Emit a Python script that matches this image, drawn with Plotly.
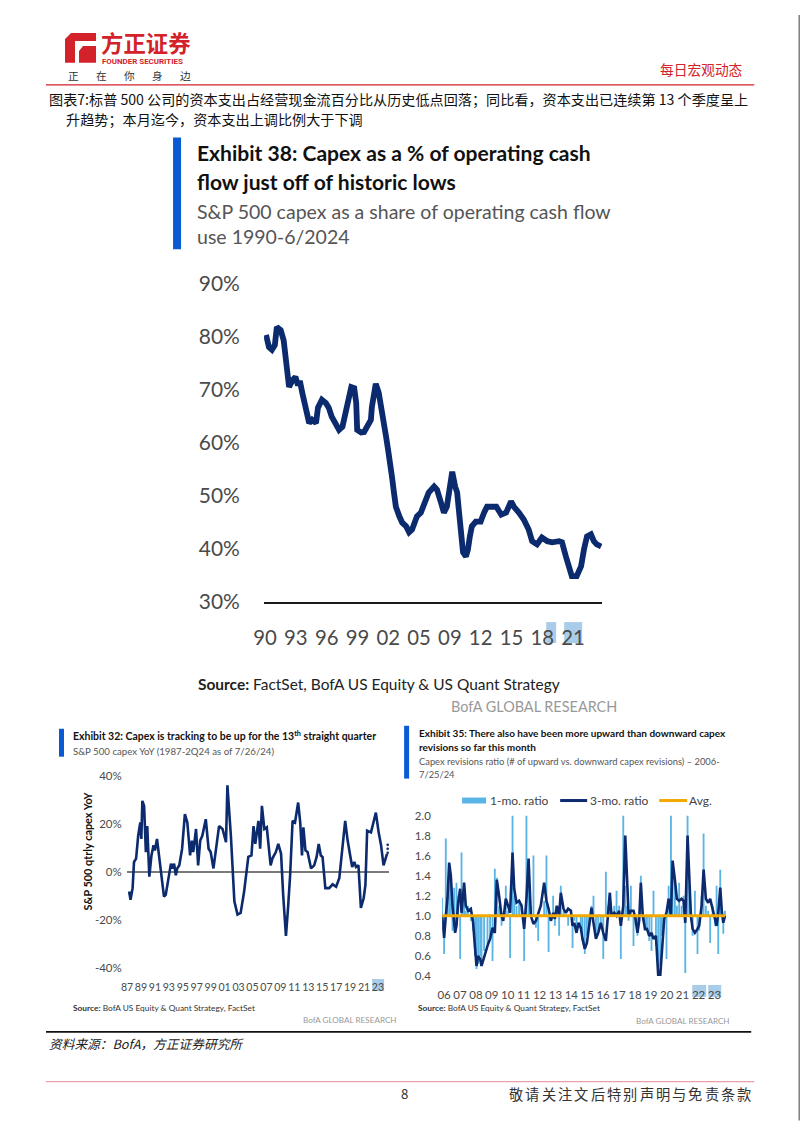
import plotly.graph_objects as go

# ---------------- DATA ----------------
MAIN_YEARS = [1990.2, 1990.5, 1990.8, 1991.1, 1991.3, 1991.7, 1992.0, 1992.2, 1992.4, 1992.55,
              1992.9, 1993.2, 1993.4, 1993.7, 1993.9, 1994.2, 1994.4, 1994.6, 1994.9, 1995.3,
              1995.5, 1995.9, 1996.3, 1996.6, 1996.9, 1997.3, 1997.65, 1998.0, 1998.2, 1998.5,
              1998.7, 1998.9, 1999.2, 1999.4, 1999.5, 1999.9, 2000.2, 2000.5, 2000.9, 2001.0,
              2001.3, 2001.4, 2001.7, 2001.9, 2002.2, 2002.45, 2002.65, 2002.95, 2003.05, 2003.25,
              2003.45, 2003.8, 2004.1, 2004.5, 2004.8, 2005.1, 2005.3, 2005.6, 2006.0, 2006.3,
              2006.5, 2006.8, 2007.35, 2007.65, 2008.05, 2008.35, 2008.65, 2009.0, 2009.2, 2009.5,
              2009.7, 2009.9, 2010.1, 2010.3, 2010.6, 2010.8, 2011.0, 2011.2, 2011.6, 2012.1,
              2012.45, 2012.75, 2013.25, 2013.7, 2014.2, 2014.7, 2015.2, 2015.5, 2016.0, 2016.5,
              2017.0, 2017.35, 2017.85, 2018.35, 2018.9, 2019.4, 2020.1, 2020.4, 2020.8, 2021.1,
              2021.4, 2021.9, 2022.35, 2022.65, 2022.95, 2023.35, 2023.65, 2023.95, 2024.4]
MAIN_VALUES = [80.4, 78.1, 77.6, 78.5, 81.9, 81.3, 79.4, 76.0, 73.2, 70.6,
               71.9, 72.5, 71.3, 71.3, 69.5, 66.8, 65.7, 63.8, 64.4, 63.8,
               66.7, 68.2, 67.6, 66.7, 65.0, 63.8, 62.5, 63.1, 65.0, 66.8,
               69.5, 70.6, 70.4, 67.6, 62.5, 62.0, 62.1, 63.1, 64.4, 66.8,
               70.4, 71.2, 69.5, 66.8, 64.4, 61.2, 58.8, 55.6, 53.7, 50.7,
               48.0, 46.2, 45.0, 44.3, 43.2, 43.7, 45.0, 46.2, 46.9, 48.4,
               49.9, 50.7, 51.8, 51.2, 48.8, 46.9, 48.0, 52.6, 54.6, 51.8,
               50.7, 46.9, 42.4, 39.4, 38.6, 39.9, 42.4, 44.3, 45.2, 45.2,
               46.9, 48.0, 48.0, 48.0, 46.5, 46.9, 49.0, 48.0, 46.9, 45.6,
               43.7, 41.5, 40.9, 42.2, 41.5, 41.3, 41.5, 41.3, 38.6, 36.8,
               34.9, 34.9, 36.8, 40.0, 42.4, 42.8, 41.5, 40.9, 40.5]
MAIN_TICK_POS = [1990.1, 1993.24, 1996.39, 1999.53, 2002.67, 2005.81, 2008.96, 2012.1, 2015.24, 2018.39, 2021.53]
MAIN_TICK_TEXT = ["90", "93", "96", "99", "02", "05", "09", "12", "15", "18", "21"]
MAIN_Y_TICKS = [30, 40, 50, 60, 70, 80, 90]
MAIN_Y_TEXT = ["30%", "40%", "50%", "60%", "70%", "80%", "90%"]

YOY_YEARS = [1987.3, 1987.5, 1987.8, 1988.0, 1988.3, 1988.6, 1988.9, 1989.05, 1989.2, 1989.45,
             1989.7, 1989.9, 1990.2, 1990.5, 1990.8, 1991.0, 1991.3, 1991.6, 1991.9, 1992.3,
             1992.55, 1993.0, 1993.3, 1993.5, 1993.75, 1994.0, 1994.2, 1994.5, 1994.9, 1995.3,
             1995.65, 1996.05, 1996.3, 1996.5, 1996.9, 1997.2, 1997.5, 1997.8, 1998.3, 1998.7,
             1999.0, 1999.4, 1999.75, 2000.2, 2000.7, 2001.2, 2001.4, 2001.9, 2002.4, 2002.85,
             2003.3, 2003.8, 2004.4, 2004.85, 2005.15, 2005.4, 2005.85, 2006.1, 2006.35, 2006.7,
             2007.05, 2007.6, 2007.85, 2008.35, 2008.7, 2009.1, 2009.4, 2009.8, 2010.1, 2010.4,
             2010.75, 2011.1, 2011.55, 2011.85, 2012.1, 2012.3, 2012.6, 2012.9, 2013.4, 2013.85,
             2014.2, 2014.5, 2014.8, 2015.05, 2015.45, 2016.0, 2016.5, 2017.0, 2017.45, 2017.85,
             2018.3, 2018.65, 2019.3, 2019.6, 2019.85, 2020.2, 2020.55, 2020.95, 2021.2, 2021.45,
             2022.0, 2022.35, 2022.7, 2023.1, 2023.45, 2023.8, 2024.2, 2024.3]
YOY_VALUES = [-8.2, -11.6, -6.8, 4.1, 5.5, 15.0, 20.5, 13.7, 29.5, 27.4,
              8.2, 19.0, -2.0, 6.8, 11.0, 8.9, 13.7, 6.8, 1.4, -10.3,
              -9.6, -1.4, 3.4, 1.4, 3.4, -1.4, 1.4, 2.7, 9.6, 24.0,
              20.5, 6.8, 13.0, 8.2, 17.8, 2.7, 13.0, 15.0, 21.9, 9.6,
              8.2, 1.4, 9.6, 19.0, 17.8, 12.3, 36.0, 15.0, -12.3, -17.8,
              -17.1, -8.2, 6.2, 6.8, 19.0, 11.6, 21.2, 9.6, 27.4, 17.8,
              18.5, 2.7, 5.5, 8.2, 11.6, 7.5, -9.6, -26.7, -15.0, -1.4,
              21.2, 20.5, 28.8, 20.5, 6.8, 18.5, 8.9, 8.2, 1.4, 2.7,
              6.2, 11.6, 6.8, 6.2, -6.8, -6.8, -5.2, -6.2, -2.7, 7.5,
              21.2, 13.0, 2.0, 4.1, 2.0, 2.7, -15.0, -11.0, -5.5, 17.1,
              16.4, 20.5, 24.6, 16.4, 11.0, 2.7, 6.2, 7.5]
YOY_PROJ_YEARS = [2024.4, 2024.4, 2024.4]
YOY_PROJ_VALUES = [11.2, 9.6, 7.9]
YOY_TICK_POS = [1987, 1989, 1991, 1993, 1995, 1997, 1999, 2001, 2003, 2005,
                2007, 2009, 2011, 2013, 2015, 2017, 2019, 2021, 2023]
YOY_TICK_TEXT = ["87", "89", "91", "93", "95", "97", "99", "01", "03", "05",
                 "07", "09", "11", "13", "15", "17", "19", "21", "23"]
YOY_Y_TICKS = [-40, -20, 0, 20, 40]
YOY_Y_TEXT = ["-40%", "-20%", "0%", "20%", "40%"]

REV_YEARS = [2006.0, 2006.13, 2006.24, 2006.35, 2006.46, 2006.57, 2006.68, 2006.79, 2006.85, 2006.94,
             2007.05, 2007.18, 2007.27, 2007.35, 2007.44, 2007.55, 2007.70, 2007.88, 2008.03, 2008.16,
             2008.25, 2008.36, 2008.49, 2008.58, 2008.75, 2008.97, 2009.14, 2009.30, 2009.45, 2009.58,
             2009.73, 2009.89, 2010.00, 2010.17, 2010.32, 2010.45, 2010.61, 2010.72, 2010.87, 2011.04,
             2011.20, 2011.37, 2011.52, 2011.66, 2011.81, 2011.98, 2012.14, 2012.29, 2012.46, 2012.68,
             2012.83, 2012.97, 2013.12, 2013.27, 2013.38, 2013.51, 2013.66, 2013.77, 2013.95, 2014.10,
             2014.25, 2014.43, 2014.54, 2014.65, 2014.80, 2014.93, 2015.08, 2015.19, 2015.34, 2015.48,
             2015.63, 2015.78, 2015.91, 2016.07, 2016.22, 2016.39, 2016.55, 2016.72, 2016.87, 2016.98,
             2017.09, 2017.27, 2017.42, 2017.59, 2017.70, 2017.86, 2017.99, 2018.10, 2018.21, 2018.36,
             2018.53, 2018.66, 2018.79, 2018.90, 2019.01, 2019.14, 2019.28, 2019.41, 2019.56, 2019.71,
             2019.84, 2020.00, 2020.15, 2020.28, 2020.39, 2020.54, 2020.69, 2020.83, 2020.98, 2021.09,
             2021.24, 2021.37, 2021.52, 2021.68, 2021.81, 2021.92, 2022.07, 2022.18, 2022.29, 2022.40,
             2022.55, 2022.72, 2022.83, 2022.99, 2023.12, 2023.27, 2023.42, 2023.55, 2023.71, 2023.86,
             2023.97, 2024.08, 2024.21, 2024.32, 2024.41, 2024.52]
REV_3MO = [1.0, 0.78, 1.0, 1.17, 1.53, 1.4, 1.1, 0.93, 0.83, 0.9,
           1.13, 1.27, 1.03, 1.17, 1.33, 1.1, 1.05, 1.07, 0.93, 0.67,
           0.5, 0.6, 0.57, 0.5, 0.6, 0.7, 0.77, 0.88, 0.83, 1.36,
           1.2, 1.0, 0.95, 1.17, 1.1, 1.03, 1.63, 1.27, 1.13, 1.15,
           1.1, 0.87, 1.17, 1.57, 1.0, 0.92, 0.95, 1.03, 1.1, 1.33,
           1.15, 1.07, 0.95, 1.03, 0.97, 1.1, 1.0, 1.23, 1.07, 1.03,
           1.07, 1.05, 0.9, 0.93, 0.83, 0.93, 0.88, 0.77, 0.67, 0.73,
           0.93, 1.08, 0.93, 0.77, 0.83, 0.93, 0.83, 0.75, 1.03, 1.23,
           1.0, 1.03, 1.0, 1.05, 0.9, 1.1, 1.8, 1.36, 1.0, 1.05,
           1.05, 0.97, 0.83, 0.95, 1.33, 1.0, 0.87, 0.87, 0.8, 0.83,
           0.77, 0.8, 0.4, 0.4, 0.67, 0.97, 1.03, 1.17, 1.0, 1.55,
           1.36, 1.17, 1.15, 1.17, 1.15, 0.93, 1.8, 1.36, 1.0, 0.87,
           0.83, 0.87, 0.9, 1.1, 1.46, 1.17, 1.13, 1.17, 1.07, 0.97,
           0.9, 1.03, 1.28, 1.03, 0.93, 1.0]
REV_1MO = [1.18, 0.62, 1.77, 1.2, 1.5, 1.3, 0.85, 1.28, 0.85, 1.33,
           1.2, 0.57, 1.63, 1.1, 1.3, 1.05, 1.1, 0.95, 0.85, 0.6,
           0.47, 0.52, 0.6, 0.55, 0.65, 0.72, 0.8, 0.55, 1.47, 1.38,
           1.1, 0.9, 1.0, 1.3, 1.05, 0.58, 2.0, 1.2, 1.1, 1.15,
           1.12, 0.55, 2.0, 1.3, 1.1, 1.6, 0.88, 0.75, 1.0, 1.15,
           1.6, 0.64, 0.95, 1.2, 0.9, 1.05, 0.8, 1.3, 1.05, 1.0,
           0.9, 1.02, 0.68, 0.95, 0.85, 1.0, 0.85, 0.75, 0.62, 0.8,
           0.9, 1.1, 1.2, 0.8, 0.85, 0.9, 0.57, 1.44, 1.1, 1.2,
           1.05, 1.1, 1.25, 1.1, 0.57, 2.0, 1.3, 1.1, 0.95, 1.3,
           0.7, 0.9, 0.8, 1.0, 1.4, 0.95, 0.85, 0.88, 0.75, 0.65,
           1.25, 0.7, 0.4, 0.5, 0.8, 1.0, 0.57, 1.3, 2.0, 1.5,
           1.33, 1.1, 1.33, 1.1, 1.2, 0.43, 2.0, 1.3, 0.95, 0.8,
           1.25, 0.62, 0.85, 1.2, 1.82, 1.1, 1.05, 0.73, 1.1, 0.9,
           1.3, 0.62, 1.46, 1.0, 0.82, 1.05]
REV_AVG = 1.0
REV_TICK_POS = [2006.13, 2007.17, 2008.21, 2009.25, 2010.29, 2011.34, 2012.38, 2013.42, 2014.46,
                2015.50, 2016.54, 2017.58, 2018.62, 2019.66, 2020.70, 2021.74, 2022.79, 2023.83]
REV_TICK_TEXT = ["06", "07", "08", "09", "10", "11", "12", "13", "14",
                 "15", "16", "17", "18", "19", "20", "21", "22", "23"]
REV_Y_TICKS = [0.4, 0.6, 0.8, 1.0, 1.2, 1.4, 1.6, 1.8, 2.0]

# ---------------- STYLE ----------------
W, H = 802, 1133
# the photographed page shows the figure slightly shrunk and offset; positions below are
# given in the reference picture's pixels and mapped back into figure space
OX, OY, SX, SY = 12.0, 13.0, 0.986, 0.981
F = 1 / 0.983
FONT = "Lato"
CJK = "Noto Sans CJK SC"
NAVY = "#0c2a6e"
LIGHT = "#5ab4e5"
ORANGE = "#f2a900"
BOFA_BLUE = "#0a5ad4"
RED = "#d3222a"
HILITE = "#a9cce9"


def px(x):
    return (x - OX) / SX / W


def py(y):
    return 1 - (y - OY) / SY / H


def fs(s):
    return s * F


fig = go.Figure()

fig.add_trace(go.Scatter(x=MAIN_YEARS, y=MAIN_VALUES, mode="lines",
                         line=dict(color=NAVY, width=5.8), xaxis="x", yaxis="y", hoverinfo="skip"))
fig.add_trace(go.Scatter(x=YOY_YEARS, y=YOY_VALUES, mode="lines",
                         line=dict(color=NAVY, width=2.6), xaxis="x2", yaxis="y2", hoverinfo="skip"))
fig.add_trace(go.Scatter(x=YOY_PROJ_YEARS, y=YOY_PROJ_VALUES, mode="markers",
                         marker=dict(color=NAVY, size=2.6), xaxis="x2", yaxis="y2", hoverinfo="skip"))
fig.add_trace(go.Bar(x=REV_YEARS, y=[v - REV_AVG for v in REV_1MO], base=REV_AVG, width=0.12,
                     marker=dict(color=LIGHT, line=dict(width=0)), xaxis="x3", yaxis="y3", hoverinfo="skip"))
fig.add_trace(go.Scatter(x=REV_YEARS, y=REV_3MO, mode="lines",
                         line=dict(color=NAVY, width=2.6), xaxis="x3", yaxis="y3", hoverinfo="skip"))
fig.add_trace(go.Scatter(x=[REV_YEARS[0], REV_YEARS[-1]], y=[REV_AVG, REV_AVG], mode="lines",
                         line=dict(color=ORANGE, width=3), xaxis="x3", yaxis="y3", hoverinfo="skip"))

hidden_tick = dict(ticks="outside", tickcolor="rgba(0,0,0,0)", tickangle=0)

fig.update_layout(
    width=W, height=H, margin=dict(l=0, r=0, t=0, b=0), autosize=False,
    paper_bgcolor="white", plot_bgcolor="white", showlegend=False,
    xaxis=dict(domain=[px(265), px(603)], range=[1990, 2024.5], anchor="y",
               tickmode="array", tickvals=MAIN_TICK_POS, ticktext=MAIN_TICK_TEXT,
               showgrid=False, zeroline=False, showline=True, linecolor="#1a1a1a", linewidth=2,
               ticklen=16, tickfont=dict(family=FONT, size=fs(20), color="#4a4a4a"), **hidden_tick),
    yaxis=dict(domain=[py(603), py(284)], range=[30, 90], anchor="x",
               tickmode="array", tickvals=MAIN_Y_TICKS, ticktext=MAIN_Y_TEXT,
               showgrid=False, zeroline=False, showline=False,
               ticklen=19, tickfont=dict(family=FONT, size=fs(20.6), color="#4a4a4a"), **hidden_tick),
    xaxis2=dict(domain=[px(128), px(390)], range=[1987, 2024.6], anchor="y2",
                tickmode="array", tickvals=YOY_TICK_POS, ticktext=YOY_TICK_TEXT,
                showgrid=False, zeroline=False, showline=False,
                ticklen=9, tickfont=dict(family=FONT, size=fs(10.4), color="#4a4a4a"), **hidden_tick),
    yaxis2=dict(domain=[py(970), py(777)], range=[-40, 40], anchor="x2",
                tickmode="array", tickvals=YOY_Y_TICKS, ticktext=YOY_Y_TEXT,
                showgrid=False, zeroline=True, zerolinecolor="#7a7a7a", zerolinewidth=1.5, showline=False,
                ticklen=2, tickfont=dict(family=FONT, size=fs(11.3), color="#4a4a4a"), **hidden_tick),
    xaxis3=dict(domain=[px(443), px(727)], range=[2006, 2024.6], anchor="y3",
                tickmode="array", tickvals=REV_TICK_POS, ticktext=REV_TICK_TEXT,
                showgrid=False, zeroline=False, showline=False,
                ticklen=8, tickfont=dict(family=FONT, size=fs(11.3), color="#4a4a4a"), **hidden_tick),
    yaxis3=dict(domain=[py(978), py(817)], range=[0.4, 2.0], anchor="x3",
                tickmode="array", tickvals=REV_Y_TICKS, tickformat=".1f",
                showgrid=False, zeroline=False, showline=False,
                ticklen=8, tickfont=dict(family=FONT, size=fs(11.3), color="#4a4a4a"), **hidden_tick),
)

shapes = []
annotations = []


def rect(x0, y0, x1, y1, fill, layer="above"):
    shapes.append(dict(type="rect", xref="paper", yref="paper", x0=px(x0), x1=px(x1), y0=py(y1), y1=py(y0),
                       fillcolor=fill, line=dict(width=0), layer=layer))


def seg(x0, y0, x1, y1, color, width):
    shapes.append(dict(type="line", xref="paper", yref="paper", x0=px(x0), x1=px(x1), y0=py(y0), y1=py(y1),
                       line=dict(color=color, width=width)))


def hline(x0, x1, y, color, width):
    seg(x0, y, x1, y, color, width)


def poly(points, fill):
    d = "M " + " L ".join(f"{px(a):.5f},{py(b):.5f}" for a, b in points) + " Z"
    shapes.append(dict(type="path", xref="paper", yref="paper", path=d, fillcolor=fill, line=dict(width=0)))


def text(x, y, s, size, color="#111", family=FONT, anchor="left", angle=0):
    annotations.append(dict(x=px(x), y=py(y), xref="paper", yref="paper", text=s, showarrow=False,
                            xanchor=anchor, yanchor="middle", textangle=angle,
                            font=dict(family=family, size=fs(size), color=color)))


# page frame (right edge is the part that falls inside the figure)
seg(800, 14, 800, 1123, "#808080", 1.5)

# header logo
poly([(66, 38), (72, 32), (97, 32), (97, 40), (76, 40), (76, 62), (66, 62)], RED)
poly([(84, 45), (97, 45), (97, 62), (80, 62), (80, 50)], RED)
text(100, 41, "<b>方正证券</b>", 22, RED, CJK)
text(101, 61, "<b>FOUNDER SECURITIES</b>", 7.8, RED, "Roboto")
for i, ch in enumerate("正在你身边"):
    text(67 + 28 * i, 75, ch, 10.5, "#333", CJK)
text(746, 68, "每日宏观动态", 13.5, RED, CJK, anchor="right")
hline(47, 755, 84, RED, 1.3)

# caption
text(48, 98, "图表7:标普 500 公司的资本支出占经营现金流百分比从历史低点回落；同比看，资本支出已连续第 13 个季度呈上",
     13.9, "#111", CJK)
text(65, 118, "升趋势；本月迄今，资本支出上调比例大于下调", 13.9, "#111", CJK)

# main exhibit title
rect(174, 137, 182, 249, BOFA_BLUE)
text(196, 152, "<b>Exhibit 38: Capex as a % of operating cash</b>", 20.7, "#111")
text(196, 181, "<b>flow just off of historic lows</b>", 20.7, "#111")
text(196, 211, "S&amp;P 500 capex as a share of operating cash flow", 19.2, "#555")
text(196, 236, "use 1990-6/2024", 19.2, "#555")
rect(547, 623, 557, 644, HILITE, layer="below")
rect(565, 623, 583, 644, HILITE, layer="below")
text(197, 685, "<b>Source:</b> FactSet, BofA US Equity &amp; US Quant Strategy", 15.2, "#222")
text(620, 708, "BofA GLOBAL RESEARCH", 14.2, "#999", anchor="right")

# left exhibit
rect(60, 730, 65, 758, BOFA_BLUE)
text(72, 737, "<b>Exhibit 32: Capex is tracking to be up for the 13<sup>th</sup> straight quarter</b>", 10.3, "#111")
text(72, 752, "S&amp;P 500 capex YoY (1987-2Q24 as of 7/26/24)", 9.5, "#555")
text(88, 853, "<b>S&amp;P 500 qtrly capex YoY</b>", 10.7, "#111", anchor="center", angle=-90)
rect(373, 981, 385, 993, HILITE, layer="below")
text(72, 1010, "<b>Source:</b> BofA US Equity &amp; Quant Strategy, FactSet", 8.2, "#333")
text(400, 1022, "BofA GLOBAL RESEARCH", 8, "#999", anchor="right")

# right exhibit
rect(405, 727, 410, 780, BOFA_BLUE)
text(418, 734, "<b>Exhibit 35: There also have been more upward than downward capex</b>", 9.85, "#111")
text(418, 748, "<b>revisions so far this month</b>", 9.85, "#111")
text(418, 763, "Capex revisions ratio (# of upward vs. downward capex revisions) – 2006-", 9.2, "#555")
text(418, 776, "7/25/24", 9.2, "#555")
rect(463, 799, 487, 805, LIGHT)
text(489, 802, "1-mo. ratio", 11.8, "#444")
hline(561, 588, 802, NAVY, 3)
text(589, 802, "3-mo. ratio", 11.8, "#444")
hline(660, 688, 802, ORANGE, 3)
text(688, 802, "Avg.", 11.8, "#444")
rect(693, 987, 707, 999, HILITE, layer="below")
rect(709, 987, 722, 999, HILITE, layer="below")
text(417, 1010, "<b>Source:</b> BofA US Equity &amp; Quant Strategy, FactSet", 8.2, "#333")
text(733, 1023, "BofA GLOBAL RESEARCH", 8, "#999", anchor="right")

# footer
hline(47, 752, 1034, "#111", 1.8)
text(48, 1046, "<i>资料来源：BofA，方正证券研究所</i>", 12.5, "#222", CJK)
hline(47, 755, 1084, "#e8a0aa", 1.2)
text(405, 1096, "8", 13, "#333", CJK, anchor="center")
for i, ch in enumerate("敬请关注文后特别声明与免责条款"):
    text(508 + 16.3 * i, 1096, ch, 14, "#333", CJK)

fig.update_layout(shapes=shapes, annotations=annotations)
fig.write_html("out.html", config={"displayModeBar": False, "staticPlot": True},
               post_script="document.body.style.margin='0';document.body.style.padding='0';"
                           "document.body.style.overflow='hidden';"
                           "document.documentElement.style.overflow='hidden';")
